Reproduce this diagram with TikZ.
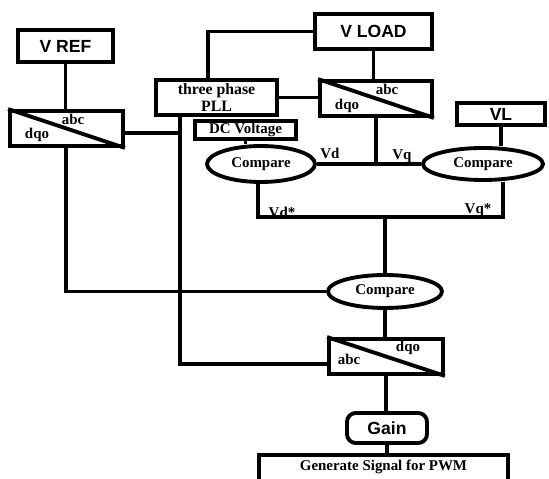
\documentclass[tikz,border=0pt]{standalone}
\usepackage{fontspec}
\setmainfont{Liberation Serif}
\newfontfamily\arialfont{Liberation Sans}
\usepackage{tikz}
\usetikzlibrary{positioning,shapes.geometric}
\newcommand{\pxu}{0.02cm}

\begin{document}
\begin{tikzpicture}[
  x=0.02cm, y=-0.02cm, line width=2.2pt,
  box/.style={rectangle, draw, inner sep=0pt, font=\arialfont\bfseries\fontsize{10}{12}\selectfont},
  sbox/.style={rectangle, draw, inner sep=0pt, align=center, font=\bfseries\fontsize{8.5}{9.5}\selectfont},
  tbox/.style={rectangle, draw, inner sep=0pt, minimum width=112*\pxu, minimum height=35*\pxu},
  cmp/.style={ellipse, draw, inner sep=0pt, font=\bfseries\fontsize{8.5}{10}\selectfont},
  lbl/.style={inner sep=0pt, font=\bfseries\fontsize{8.5}{10}\selectfont}
]
  \useasboundingbox (0,0) rectangle (549,479);

  % Sources
  \node[box, minimum width=95*\pxu, minimum height=32*\pxu] (vref) at (65.5,46) {V REF};
  \node[box, minimum width=117*\pxu, minimum height=35*\pxu] (vload) at (373.5,31.5) {V LOAD};
  \node[box, minimum width=88*\pxu, minimum height=22*\pxu] (vl) at (501,114) {VL};
  \node[sbox, minimum width=121*\pxu, minimum height=35*\pxu, font=\bfseries\fontsize{9}{9.5}\selectfont] (pll) at (216.5,97.5) {three phase\\PLL};
  \node[sbox, minimum width=101*\pxu, minimum height=18*\pxu] (dcv) at (245.5,130) {DC Voltage};

  % abc/dqo transforms
  \node[tbox, minimum width=113*\pxu] (tleft) at (66.5,128.5) {};
  \draw (tleft.north west) -- (tleft.south east);
  \node[lbl] (tleft-abc) at (73,119) {abc};
  \node[lbl] (tleft-dqo) at (37,135) {dqo};

  \node[tbox] (tload) at (376,98.5) {};
  \draw (tload.north west) -- (tload.south east);
  \node[lbl] (tload-abc) at (387,89) {abc};
  \node[lbl] (tload-dqo) at (347,106) {dqo};

  \node[tbox, minimum width=114*\pxu] (tout) at (386,356.5) {};
  \draw (tout.north west) -- (tout.south east);
  \node[lbl] (tout-dqo) at (408,348) {dqo};
  \node[lbl] (tout-abc) at (349,359) {abc};

  % Comparators
  \node[cmp, minimum width=108*\pxu, minimum height=36*\pxu] (cmpd) at (261,164) {Compare};
  \node[cmp, minimum width=120*\pxu, minimum height=32*\pxu] (cmpq) at (483,164) {Compare};
  \node[cmp, minimum width=114*\pxu, minimum height=33*\pxu] (cmpm) at (385,291.5) {Compare};

  % Output
  \node[box, rounded corners=5pt, minimum width=80*\pxu, minimum height=30*\pxu] (gain) at (387,428) {Gain};
  \node[sbox, minimum width=249*\pxu, minimum height=30*\pxu, text depth=9*\pxu] (pwm) at (383.5,470) {Generate Signal for PWM};

  % Corners
  \coordinate (c1) at (180,364);
  \coordinate (j1) at (180,133);
  \coordinate (c2) at (66,291.5);
  \coordinate (c3) at (208,31.5);
  \coordinate (c4) at (258,217);
  \coordinate (c5) at (503,217);

  \draw (vref.south) -- (vref.south |- tleft.north);
  \draw (tleft.east |- j1) -- (j1);
  \draw (pll.south -| c1) -- (c1) -- (tout.west |- c1);
  \draw (tleft.south -| c2) -- (c2) -- (cmpm.west);
  \draw (pll.north -| c3) -- (c3) -- (vload.west);
  \draw (pll.east) -- (pll.east -| tload.west);
  \draw (vload.south) -- (vload.south |- tload.north);
  \draw (tload.south) -- (tload.south |- cmpd.east);
  \draw (cmpd.east) -- (cmpq.west);
  \draw (dcv.south) -- (dcv.south |- cmpd.north);
  \draw (vl.south) -- (vl.south |- cmpq.north);
  \draw (cmpd.south -| c4) -- (c4) -- (c5) -- (cmpq.south -| c5);
  \draw (c4 -| cmpm.north) -- (cmpm.north);
  \draw (cmpm.south) -- (cmpm.south |- tout.north);
  \draw (tout.south) -- (tout.south |- gain.north);
  \draw (gain.south) -- (gain.south |- pwm.north);

  % Signal labels
  \node[lbl] (vd) at (330,153) {Vd};
  \node[lbl] (vq) at (402,156) {Vq};
  \node[lbl] (vds) at (282,212) {Vd*};
  \node[lbl] (vqs) at (478,210) {Vq*};
\end{tikzpicture}
\end{document}
